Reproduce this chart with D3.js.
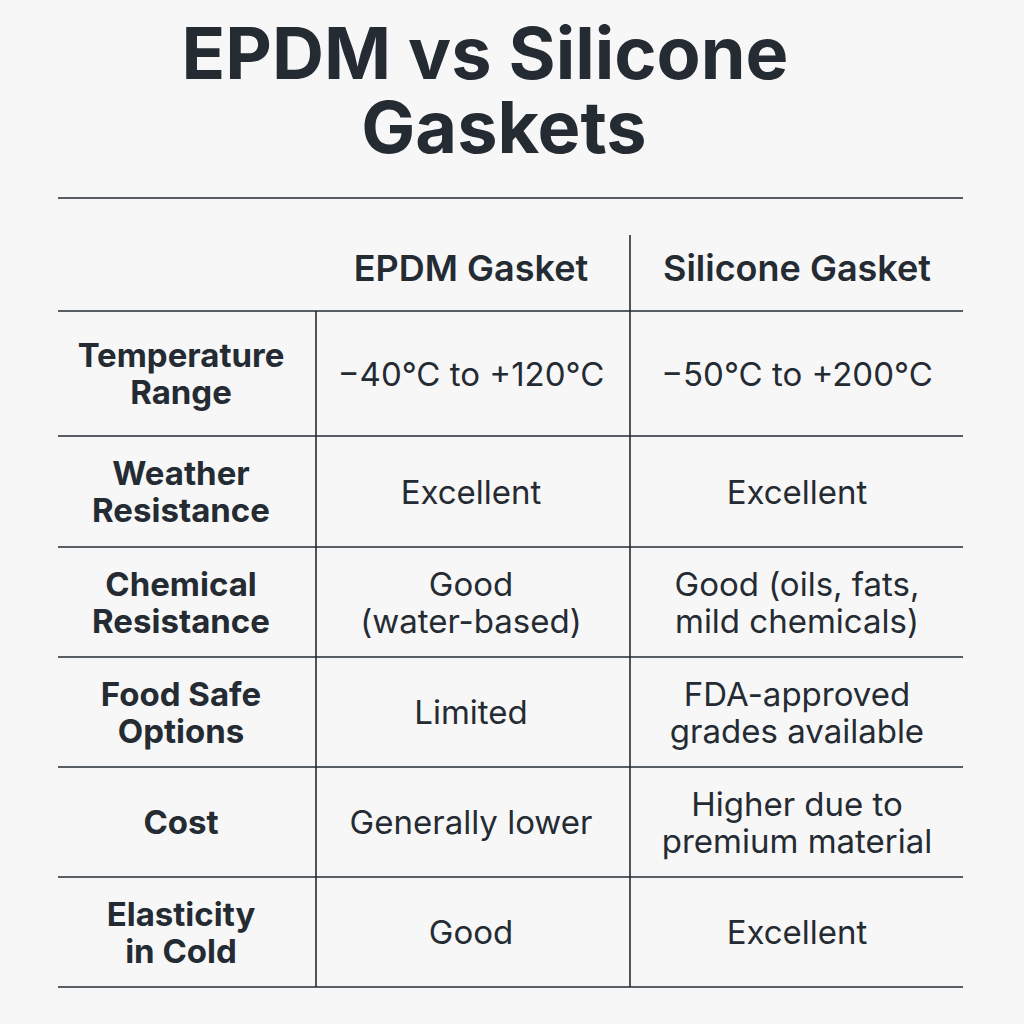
<!DOCTYPE html>
<html><head><meta charset="utf-8">
<script src="https://cdn.jsdelivr.net/npm/d3@7/dist/d3.min.js"></script>
<style>body{margin:0;background:#f7f7f7}</style></head>
<body><svg id="c" width="1024" height="1024"></svg>
<script>
const title = ["EPDM vs Silicone", "Gaskets"];
const columns = ["EPDM Gasket", "Silicone Gasket"];
const properties = [["Temperature","Range"],["Weather","Resistance"],["Chemical","Resistance"],["Food Safe","Options"],["Cost"],["Elasticity","in Cold"]];
const epdm = [["−40°C to +120°C"],["Excellent"],["Good","(water-based)"],["Limited"],["Generally lower"],["Good"]];
const silicone = [["−50°C to +200°C"],["Excellent"],["Good (oils, fats,","mild chemicals)"],["FDA-approved","grades available"],["Higher due to","premium material"],["Excellent"]];

const svg = d3.select("#c");
const ink = "#252b33";
svg.append("rect").attr("width",1024).attr("height",1024).attr("fill","#f7f7f7");
const font = "Inter, 'Open Sans', sans-serif";

svg.selectAll(".t").data(title).join("text")
  .attr("x",(d,i)=>i?504:485).attr("y",(d,i)=>79+i*74).attr("text-anchor","middle")
  .attr("font-family",font).attr("font-weight",700).attr("font-size",72).attr("fill",ink).text(d=>d);

const bounds = [311,436,547,657,767,877,987];
const x0=58,x1=316,x2=630,x3=963;
const colCenters=[471,797];
const line=(a,b,c,d)=>svg.append("line").attr("x1",a).attr("y1",b).attr("x2",c).attr("y2",d).attr("stroke",ink).attr("stroke-width",1.6);
line(x0,198,x3,198);
line(x2,235,x2,311);
bounds.forEach(y=>line(x0,y,x3,y));
line(x1,311,x1,987);
line(x2,311,x2,987);

svg.selectAll(".h").data(columns).join("text")
  .attr("x",(d,i)=>colCenters[i]).attr("y",281).attr("text-anchor","middle")
  .attr("font-family",font).attr("font-weight",600).attr("font-size",36).attr("fill",ink).text(d=>d);

function cell(lines,cx,i,weight,fs){
  const cy=(bounds[i]+bounds[i+1])/2;
  const lh=37;
  lines.forEach((t,k)=>{
    svg.append("text").attr("x",cx).attr("y",cy+(k-(lines.length-1)/2)*lh+12)
      .attr("text-anchor","middle").attr("font-family",font).attr("font-weight",weight)
      .attr("font-size",fs).attr("fill",ink).text(t);
  });
}
properties.forEach((p,i)=>cell(p,181,i,700,33));
epdm.forEach((p,i)=>cell(p,colCenters[0],i,400,33));
silicone.forEach((p,i)=>cell(p,colCenters[1],i,400,33));
</script></body></html>
